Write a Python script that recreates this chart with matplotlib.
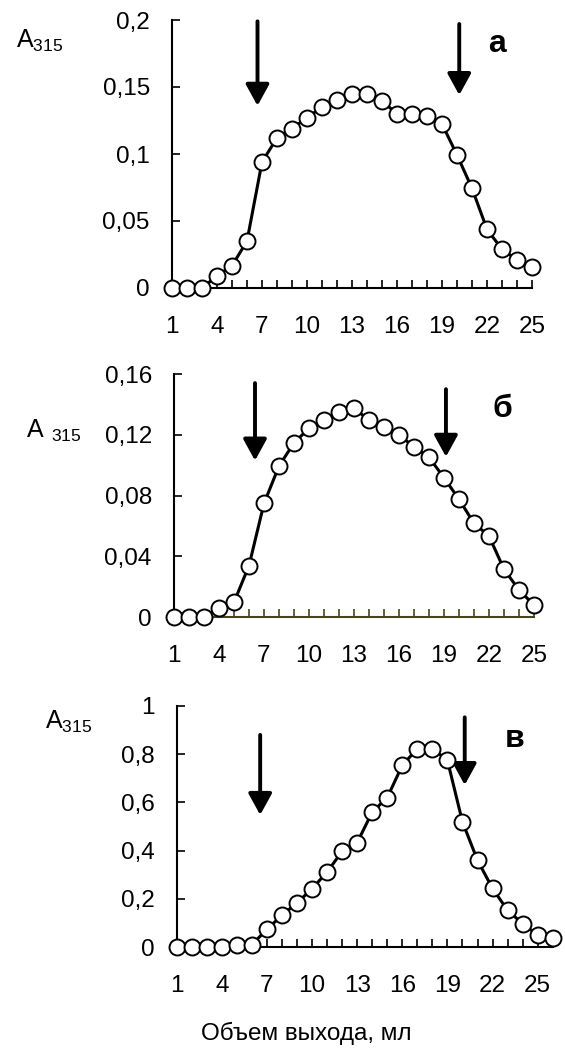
import matplotlib.pyplot as plt

plt.rcParams['font.family'] = ['Liberation Sans', 'DejaVu Sans']
plt.rcParams['mathtext.fontset'] = 'custom'
plt.rcParams['mathtext.rm'] = 'Liberation Sans'

# elution volume, ml
vol = list(range(1, 26))
vol_v = list(range(1, 27))

# A315 for the three fractions
a315_a = [0, 0, 0, 0.009, 0.0166, 0.035, 0.094, 0.112, 0.119, 0.127, 0.135, 0.140, 0.145,
          0.145, 0.1395, 0.130, 0.130, 0.1286, 0.1224, 0.0993, 0.0744, 0.0438, 0.0289, 0.0209, 0.0159]
a315_b = [0, 0, 0, 0.0057, 0.0097, 0.0338, 0.0748, 0.0994, 0.1147, 0.1242, 0.1297, 0.1352, 0.1374,
          0.1297, 0.1249, 0.1198, 0.1121, 0.1051, 0.0917, 0.0775, 0.0617, 0.0533, 0.0314, 0.0178, 0.0079]
a315_v = [0, 0, 0, 0, 0.01, 0.01, 0.073, 0.132, 0.183, 0.242, 0.311, 0.397, 0.433, 0.560, 0.620,
          0.754, 0.823, 0.823, 0.775, 0.519, 0.360, 0.243, 0.152, 0.097, 0.049, 0.037]

yticks_a = [0, 0.05, 0.1, 0.15, 0.2]
yticks_b = [0, 0.04, 0.08, 0.12, 0.16]
yticks_v = [0, 0.2, 0.4, 0.6, 0.8, 1]
xtick_labels = [1, 4, 7, 10, 13, 16, 19, 22, 25]

# arrows: (x, top, tip)
arrows_a = [(6.7, 0.199, 0.136), (20.15, 0.197, 0.144)]
arrows_b = [(6.4, 0.154, 0.103), (19.13, 0.150, 0.1055)]
arrows_v = [(6.55, 0.88, 0.548), (20.15, 0.953, 0.672)]

W, H = 565, 1048
fig = plt.figure(figsize=(W / 100, H / 100), dpi=100)


def add_ax(left, bottom, w, h):
    return fig.add_axes([left / W, (H - bottom) / H, w / W, h / H])


def fmt(v):
    s = ('%g' % v).replace('.', ',')
    return s


def panel(ax, x, y, yticks, arrows, xmax, axis_color='black'):
    ax.plot(x, y, '-o', color='black', lw=2.2, ms=11.5, mfc='white', mec='black',
            mew=1.4, clip_on=False, zorder=5)
    ax.set_xlim(1, xmax)
    ax.set_ylim(yticks[0], yticks[-1])
    for s in ('top', 'right'):
        ax.spines[s].set_visible(False)
    ax.spines['left'].set_linewidth(1.5)
    ax.spines['bottom'].set_linewidth(1.5)
    ax.spines['bottom'].set_color(axis_color)
    ax.set_yticks(yticks)
    ax.set_yticklabels([fmt(v) for v in yticks])
    ax.set_xticks(range(1, xmax + 1))
    ax.set_xticklabels([str(v) if v in xtick_labels else '' for v in range(1, xmax + 1)])
    ax.tick_params(axis='y', direction='in', length=6, width=1.2, labelsize=17.5, pad=16)
    ax.tick_params(axis='x', direction='in', length=6, width=1.2, labelsize=17.5, pad=20,
                   color=axis_color)
    for xa, top, tip in arrows:
        ax.annotate('', xy=(xa, tip), xytext=(xa, top),
                    arrowprops=dict(arrowstyle='-|>,head_length=1.0,head_width=0.55',
                                    lw=2.8, color='black', mutation_scale=13,
                                    shrinkA=0, shrinkB=0), annotation_clip=False)


ax1 = add_ax(172, 288, 360, 268)
panel(ax1, vol, a315_a, yticks_a, arrows_a, 25)
ax2 = add_ax(174, 617, 360, 243)
panel(ax2, vol, a315_b, yticks_b, arrows_b, 25, axis_color='#464616')
ax3 = add_ax(176.7, 947, 376, 241)
panel(ax3, vol_v, a315_v, yticks_v, arrows_v, 26)


def ftext(x, y, s, **kw):
    fig.text(x / W, 1 - y / H, s, **kw)


ftext(16, 41, r'$\mathregular{A_{315}}$', fontsize=18, ha='left', va='center')
ftext(26, 431, r'$\mathregular{A\ _{315}}$', fontsize=18, ha='left', va='center')
ftext(45, 722, r'$\mathregular{A_{315}}$', fontsize=18, ha='left', va='center')

ftext(497, 44, 'а', fontsize=23, fontweight='bold', ha='center', va='center')
ftext(502, 409, 'б', fontsize=23, fontweight='bold', ha='center', va='center')
ftext(515, 739, 'в', fontsize=23, fontweight='bold', ha='center', va='center')

ftext(306, 1033, 'Объем выхода, мл', fontsize=17.5, ha='center', va='center')

fig.savefig('out.png', dpi=100)
